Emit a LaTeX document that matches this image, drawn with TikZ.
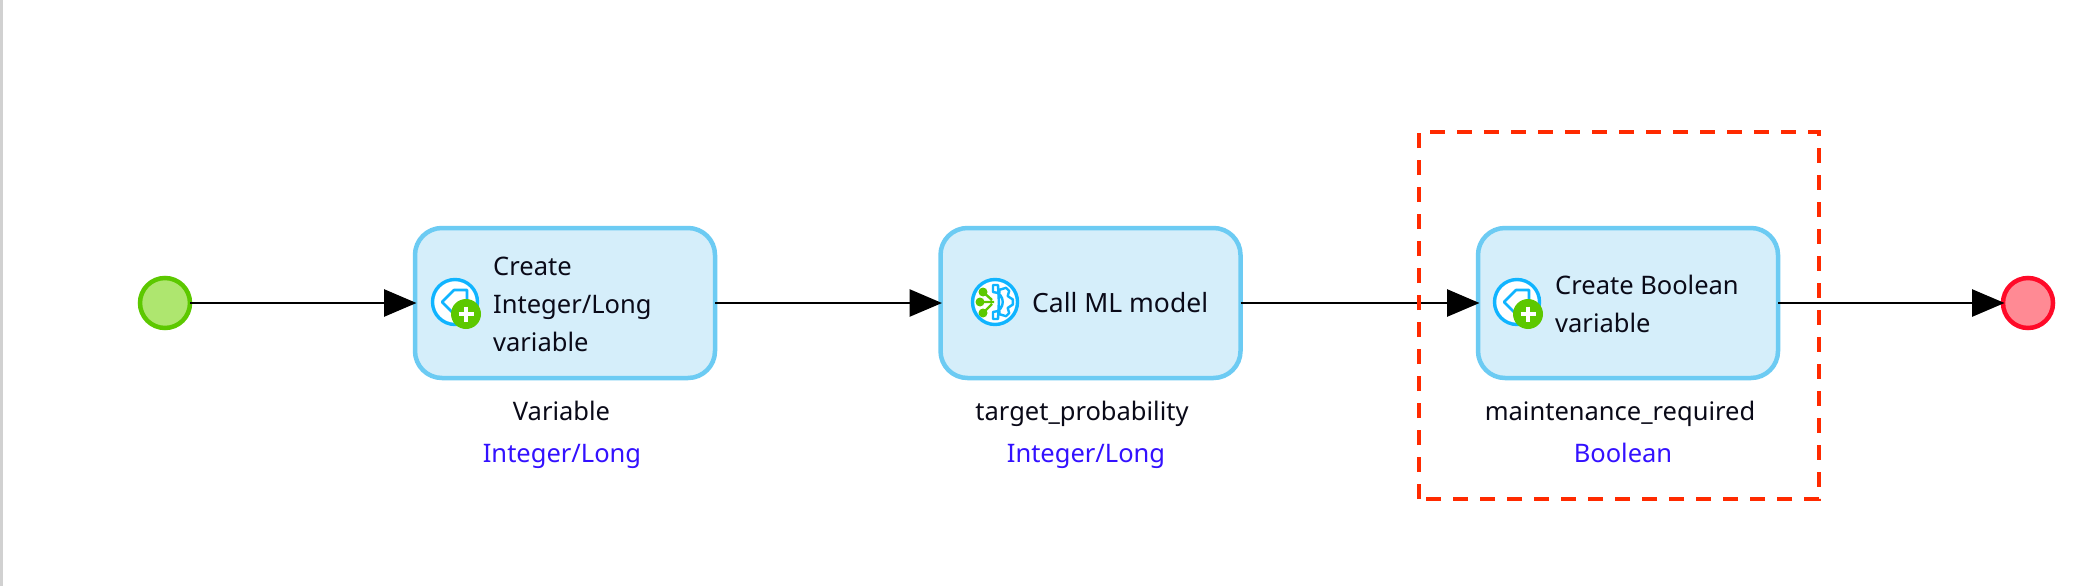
\documentclass[tikz,border=0pt]{standalone}
\usepackage{fontspec}
\setmainfont{Noto Sans}
\usetikzlibrary{arrows.meta}
\definecolor{boxfill}{HTML}{D5EEFA}
\definecolor{boxline}{HTML}{6CCBF3}
\definecolor{startfill}{HTML}{AEE66F}
\definecolor{startline}{HTML}{5CC800}
\definecolor{endfill}{HTML}{FF8A94}
\definecolor{endline}{HTML}{FF0A28}
\definecolor{dashred}{HTML}{FF2A00}
\definecolor{typeblue}{HTML}{3311FF}
\definecolor{iconblue}{HTML}{10B4FF}
\definecolor{icongreen}{HTML}{5CC800}
\definecolor{txt}{HTML}{0A0A18}
\tikzset{
  x=1pt,y=-1pt,
  actbox/.style={draw=boxline,fill=boxfill,line width=4.5pt,rounded corners=27pt,minimum width=300pt,minimum height=150pt,inner sep=0pt,outer sep=0pt},
  evt/.style={circle,line width=4.5pt,minimum size=50pt,inner sep=0pt,outer sep=0pt},
  flow/.style={draw=black,line width=2.8pt,-{Triangle[length=32.5pt,width=27pt]},shorten >=-1.5pt},
  acttext/.style={font=\fontsize{25.5}{38}\selectfont,text=txt,inner sep=0pt,align=left},
  vartext/.style={font=\fontsize{25.5}{38}\selectfont,text=txt,inner sep=0pt,anchor=base},
  typetext/.style={font=\fontsize{25.5}{38}\selectfont,text=typeblue,inner sep=0pt,anchor=base},
  iconring/.style={circle,draw=iconblue,fill=white,line width=3.4pt,minimum size=45pt,inner sep=0pt},
  badge/.style={circle,fill=icongreen,minimum size=30pt,inner sep=0pt},
  tagicon/.style={draw=iconblue,line width=2.6pt,line join=round},
}
\newcommand{\varicon}[3]{%
  \node[iconring] (#3ring) at (#1,#2) {};
  \draw[tagicon] (#1-13,#2) -- (#1-1,#2-12) -- (#1+12,#2-12) -- (#1+12,#2+2) -- (#1,#2+13) -- cycle;
  \node[badge] (#3badge) at (#1+11,#2+12) {};
  \draw[white,line width=3.4pt] (#1+3.5,#2+12) -- (#1+18.5,#2+12) (#1+11,#2+4.5) -- (#1+11,#2+19.5);
}
\begin{document}
\begin{tikzpicture}
\useasboundingbox (0,0) rectangle (2100,586);
\fill[white] (0,0) rectangle (2100,586);
\fill[black!18] (0,0) rectangle (2.5,586);

\node[evt,draw=startline,fill=startfill] (start) at (165,303) {};
\node[actbox] (a1) at (565,303) {};
\node[actbox] (a2) at (1090.5,303) {};
\node[actbox] (a3) at (1628,303) {};
\node[evt,draw=endline,fill=endfill] (finish) at (2028,303) {};

\draw[flow] (start) -- (a1);
\draw[flow] (a1) -- (a2);
\draw[flow] (a2) -- (a3);
\draw[flow] (a3) -- (finish);

\varicon{455}{302}{one}
\varicon{1517}{302}{three}

\node[iconring] (gearring) at (995,302) {};
\begin{scope}[shift={(995,302)}]
  \draw[iconblue,line width=2.4pt,line join=round]
    (-2,-17) -- (3,-17) -- (70:13) -- (52:18) -- (38:18) -- (25:14) -- (8:18) -- (-8:18) -- (-25:14) -- (-38:18) -- (-52:18) -- (-70:13) -- (3,17) -- (-2,17) -- (-2,10) .. controls (11,10) and (11,-10) .. (-2,-10) -- cycle;
  \draw[icongreen,line width=2.4pt] (-15,0) -- (-1,0) (-12,-10) -- (-3,-2) (-12,11) -- (-3,2);
  \fill[icongreen] (-12,-10) circle[radius=4.5] (-15,0) circle[radius=4.5] (-12,11) circle[radius=4.5];
\end{scope}

\node[acttext,anchor=west] (t1) at (493,304) {Create\\Integer/Long\\variable};
\node[acttext,anchor=base west,font=\fontsize{26.5}{38}\selectfont] (t2) at (1032,312) {Call ML model};
\node[acttext,anchor=west] (t3) at (1555,304) {Create Boolean\\variable};

\node[vartext] (v1) at (561.5,420) {Variable};
\node[typetext] (y1) at (562,462) {Integer/Long};
\node[vartext] (v2) at (1082,420) {target\_probability};
\node[typetext] (y2) at (1086,462) {Integer/Long};
\node[vartext] (v3) at (1620,420) {maintenance\_required};
\node[typetext] (y3) at (1623,462) {Boolean};

\draw[dashred,line width=4pt,dash pattern=on 15pt off 12pt] (1419,499) -- (1419,132) -- (1819,132) -- (1819,499) -- cycle;
\end{tikzpicture}
\end{document}
